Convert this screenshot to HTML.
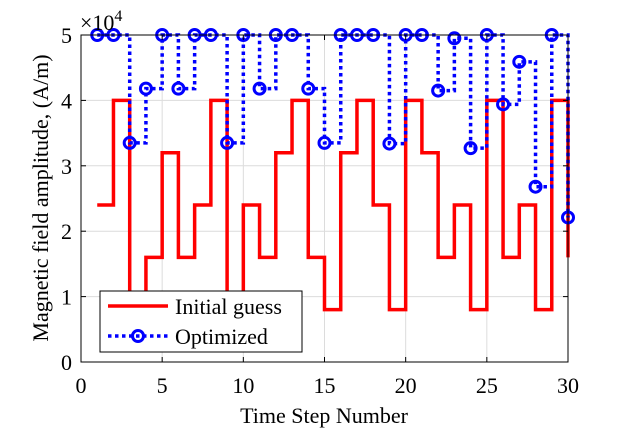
<!DOCTYPE html>
<html><head><meta charset="utf-8"><style>
body{margin:0;background:#fff}
svg{display:block;font-family:"Liberation Serif",serif}
</style></head><body>
<svg id="c" width="625" height="430"></svg>
<script>
const steps=[1,2,3,4,5,6,7,8,9,10,11,12,13,14,15,16,17,18,19,20,21,22,23,24,25,26,27,28,29,30];
const initialGuess=[24000,40000,8000,16000,32000,16000,24000,40000,8000,24000,16000,32000,40000,16000,8000,32000,40000,24000,8000,40000,32000,16000,24000,8000,40000,16000,24000,8000,40000,16000];
const optimized=[50000,50000,33500,41800,50000,41800,50000,50000,33500,50000,41800,50000,50000,41800,33500,50000,50000,50000,33400,50000,50000,41500,49500,32700,50000,39400,45900,26800,50000,22100];
const xTicks=[0,5,10,15,20,25,30];
const yTicks=[0,1,2,3,4,5];
const L=81,R=568,T=35,B=362;
const sx=v=>L+(v/30)*(R-L), sy=v=>B-(v/50000)*(B-T);
const NS="http://www.w3.org/2000/svg",svg=document.getElementById('c');
function mk(t,a,p){const e=document.createElementNS(NS,t);for(const k in a)e.setAttribute(k,a[k]);(p||svg).appendChild(e);return e;}
xTicks.forEach(v=>{const g=mk('line',{x1:sx(v),x2:sx(v),y1:T,y2:B,stroke:'#dcdcdc','stroke-width':1});

});
yTicks.forEach(v=>{const g=mk('line',{x1:L,x2:R,y1:sy(v*10000),y2:sy(v*10000),stroke:'#dcdcdc','stroke-width':1});

});
function stairs(vals){let d='';vals.forEach((v,i)=>{const x=sx(steps[i]),y=sy(v);if(i==0)d+='M'+x+','+y;else d+='V'+y;if(i<vals.length-1)d+='H'+sx(steps[i+1]);});return d;}
const red=mk('path',{d:stairs(initialGuess),fill:'none',stroke:'#ff0000','stroke-width':3.5});


const blue=mk('path',{d:stairs(optimized),fill:'none',stroke:'#0000ff','stroke-width':3.5,'stroke-dasharray':'3.5 3.5'});


optimized.forEach((v,i)=>{const c=mk('circle',{cx:sx(steps[i]),cy:sy(v),r:5.5,fill:'none',stroke:'#0000ff','stroke-width':3});

});
const ax=mk('rect',{x:L,y:T,width:R-L,height:B-T,fill:'none',stroke:'#000','stroke-width':1});


xTicks.forEach(v=>{mk('line',{x1:sx(v),x2:sx(v),y1:B,y2:B-5,stroke:'#000'});mk('line',{x1:sx(v),x2:sx(v),y1:T,y2:T+5,stroke:'#000'});
const t=mk('text',{x:sx(v),y:B+31,'text-anchor':'middle','font-size':22});t.textContent=v;

});
yTicks.forEach(v=>{const y=sy(v*10000);mk('line',{x1:L,x2:L+5,y1:y,y2:y,stroke:'#000'});mk('line',{x1:R,x2:R-5,y1:y,y2:y,stroke:'#000'});
const t=mk('text',{x:L-9,y:y+8,'text-anchor':'end','font-size':22});t.textContent=v;

});
</script>
<svg width="625" height="430" style="position:absolute;left:0;top:0;font-family:'Liberation Serif',serif">
<text x="80" y="30" font-size="22">×10<tspan dy="-9" font-size="16">4</tspan></text>
<text x="324" y="423" font-size="22" text-anchor="middle">Time Step Number</text>
<text transform="translate(48,198) rotate(-90)" font-size="22" text-anchor="middle">Magnetic field amplitude, (A/m)</text>
<g>
<rect x="100" y="291" width="202" height="61" fill="#fff" stroke="#000" stroke-width="1"/>
<line x1="108" y1="306" x2="168" y2="306" stroke="#ff0000" stroke-width="3.5"/>
<text x="175" y="314" font-size="22">Initial guess</text>
<line x1="108" y1="336" x2="168" y2="336" stroke="#0000ff" stroke-width="3.5" stroke-dasharray="3.5 3.5"/>
<circle cx="138" cy="336" r="5.5" fill="none" stroke="#0000ff" stroke-width="3"/>
<text x="175" y="344" font-size="22">Optimized</text>
</g>
</svg>
</body></html>
